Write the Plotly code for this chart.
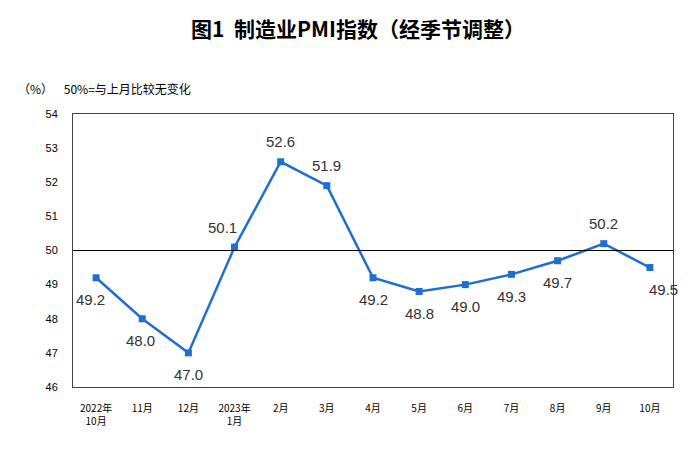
import plotly.graph_objects as go

months = ["2022年<br>10月", "11月", "12月", "2023年<br>1月", "2月", "3月", "4月", "5月", "6月", "7月", "8月", "9月", "10月"]
pmi = [49.2, 48.0, 47.0, 50.1, 52.6, 51.9, 49.2, 48.8, 49.0, 49.3, 49.7, 50.2, 49.5]
# label offsets (px): (dx, dy)
offsets = [(-6, -22), (-2, -22), (0, -22), (-12, 20), (0, 20), (0, 20),
           (0, -22), (0, -22), (0, -22), (0, -22), (0, -22), (0, 20), (14, -22)]

x = list(range(len(months)))
fig = go.Figure()
fig.add_trace(go.Scatter(
    x=x, y=pmi, mode="lines+markers",
    line=dict(color="#1f6fd1", width=2.5),
    marker=dict(symbol="square", size=7, color="#1f6fd1"),
    cliponaxis=False, showlegend=False))
fig.add_shape(type="line", xref="paper", x0=0, x1=1, y0=50, y1=50, line=dict(color="black", width=1))
anns = [dict(x=xi, y=v, text=f"{v:.1f}", showarrow=False, xshift=dx, yshift=dy,
             font=dict(size=15, color="#333", family="Liberation Sans"))
        for xi, v, (dx, dy) in zip(x, pmi, offsets)]
anns.append(dict(text="（%）    50%=与上月比较无变化", xref="paper", yref="paper", x=-0.095, y=1.092,
                 xanchor="left", yanchor="middle", showarrow=False,
                 font=dict(size=12, color="black", family="Noto Sans CJK SC")))
fig.update_layout(
    width=700, height=458, plot_bgcolor="white", paper_bgcolor="white",
    margin=dict(l=65, r=35, t=106, b=79),
    title=dict(text="<b>图1  制造业PMI指数（经季节调整）</b>", x=0.5, y=0.952, xanchor="center",
               yanchor="middle",
               font=dict(size=21, color="black", family="Noto Sans CJK SC")),
    xaxis=dict(tickmode="array", tickvals=x, ticktext=months, range=[-0.5, 12.5],
               showgrid=False, ticks="", showline=True, linecolor="#444", mirror=True,
               ticklabelstandoff=12,
               tickfont=dict(size=10, color="black", family="Noto Sans CJK SC")),
    yaxis=dict(range=[46, 54], dtick=1, showgrid=False, ticks="", showline=True, linecolor="#444",
               mirror=True, ticklabelstandoff=12,
               tickfont=dict(size=11, color="black", family="Liberation Sans")),
    annotations=anns,
)
fig.write_html("out.html")
